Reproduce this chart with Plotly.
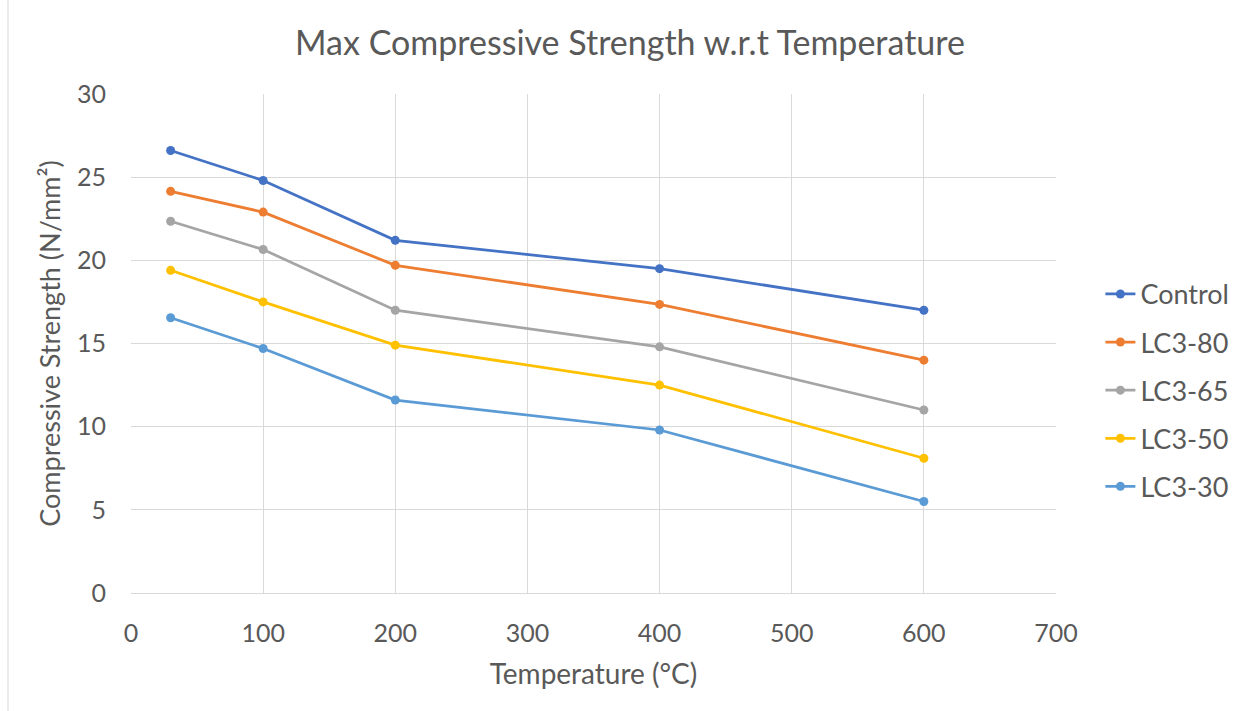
import plotly.graph_objects as go

temps = [30, 100, 200, 400, 600]
series_names = ["Control", "LC3-80", "LC3-65", "LC3-50", "LC3-30"]
control = [26.6, 24.8, 21.2, 19.5, 17.0]
lc3_80 = [24.15, 22.9, 19.7, 17.35, 14.0]
lc3_65 = [22.35, 20.65, 17.0, 14.8, 11.0]
lc3_50 = [19.4, 17.5, 14.9, 12.5, 8.1]
lc3_30 = [16.55, 14.7, 11.6, 9.8, 5.5]
colors = ["#4472C4", "#ED7D31", "#A5A5A5", "#FFC000", "#5B9BD5"]

x_ticks = [0, 100, 200, 300, 400, 500, 600, 700]
y_ticks = [0, 5, 10, 15, 20, 25, 30]

FONT = "Lato, 'Open Sans', sans-serif"
GREY = "#595959"

fig = go.Figure()
for i, (name, vals) in enumerate(zip(series_names, [control, lc3_80, lc3_65, lc3_50, lc3_30])):
    fig.add_trace(go.Scatter(
        x=temps, y=vals, name=name, mode="lines+markers",
        line=dict(color=colors[i], width=2.75),
        marker=dict(color=colors[i], size=9),
        legendgroup=name,
    ))

fig.update_layout(
    width=1250, height=711,
    margin=dict(l=131, r=194, t=94, b=118),
    paper_bgcolor="white", plot_bgcolor="white",
    font=dict(family=FONT, color=GREY, size=25),
    title=dict(text="Max Compressive Strength w.r.t Temperature",
               x=0.504, xanchor="center", y=0.9395, yanchor="middle",
               font=dict(size=34, color=GREY, family=FONT)),
    legend=dict(x=1.048, xanchor="left", y=0.406, yanchor="middle",
                font=dict(size=27, color=GREY), traceorder="grouped",
                tracegroupgap=10, itemwidth=30),
    showlegend=True,
    shapes=[dict(type="line", xref="paper", yref="paper", x0=-0.1, x1=-0.1, y0=-0.2, y1=1.2,
                 line=dict(color="#D9D9D9", width=1))],
)
# keep the border line positioned in pixels: x = 8px
fig.layout.shapes[0].update(x0=(8 - 131) / 925, x1=(8 - 131) / 925,
                            y0=-118 / 499, y1=(711 - 118) / 499)

fig.update_xaxes(range=[0, 700], tickvals=x_ticks, showgrid=True, gridcolor="#D9D9D9",
                 gridwidth=1, zeroline=False, showline=True, linecolor="#D9D9D9",
                 ticks="", ticklabelstandoff=18, tickfont=dict(size=25, color=GREY),
                 title=dict(text="Temperature (°C)", font=dict(size=28, color=GREY), standoff=18))
fig.update_yaxes(range=[0, 30], tickvals=y_ticks, showgrid=True, gridcolor="#D9D9D9",
                 gridwidth=1, zeroline=False, showline=False,
                 ticks="", ticklabelstandoff=24, tickfont=dict(size=25, color=GREY),
                 title=dict(text="Compressive Strength (N/mm²)", font=dict(size=27, color=GREY), standoff=8))

fig.write_html("out.html")
